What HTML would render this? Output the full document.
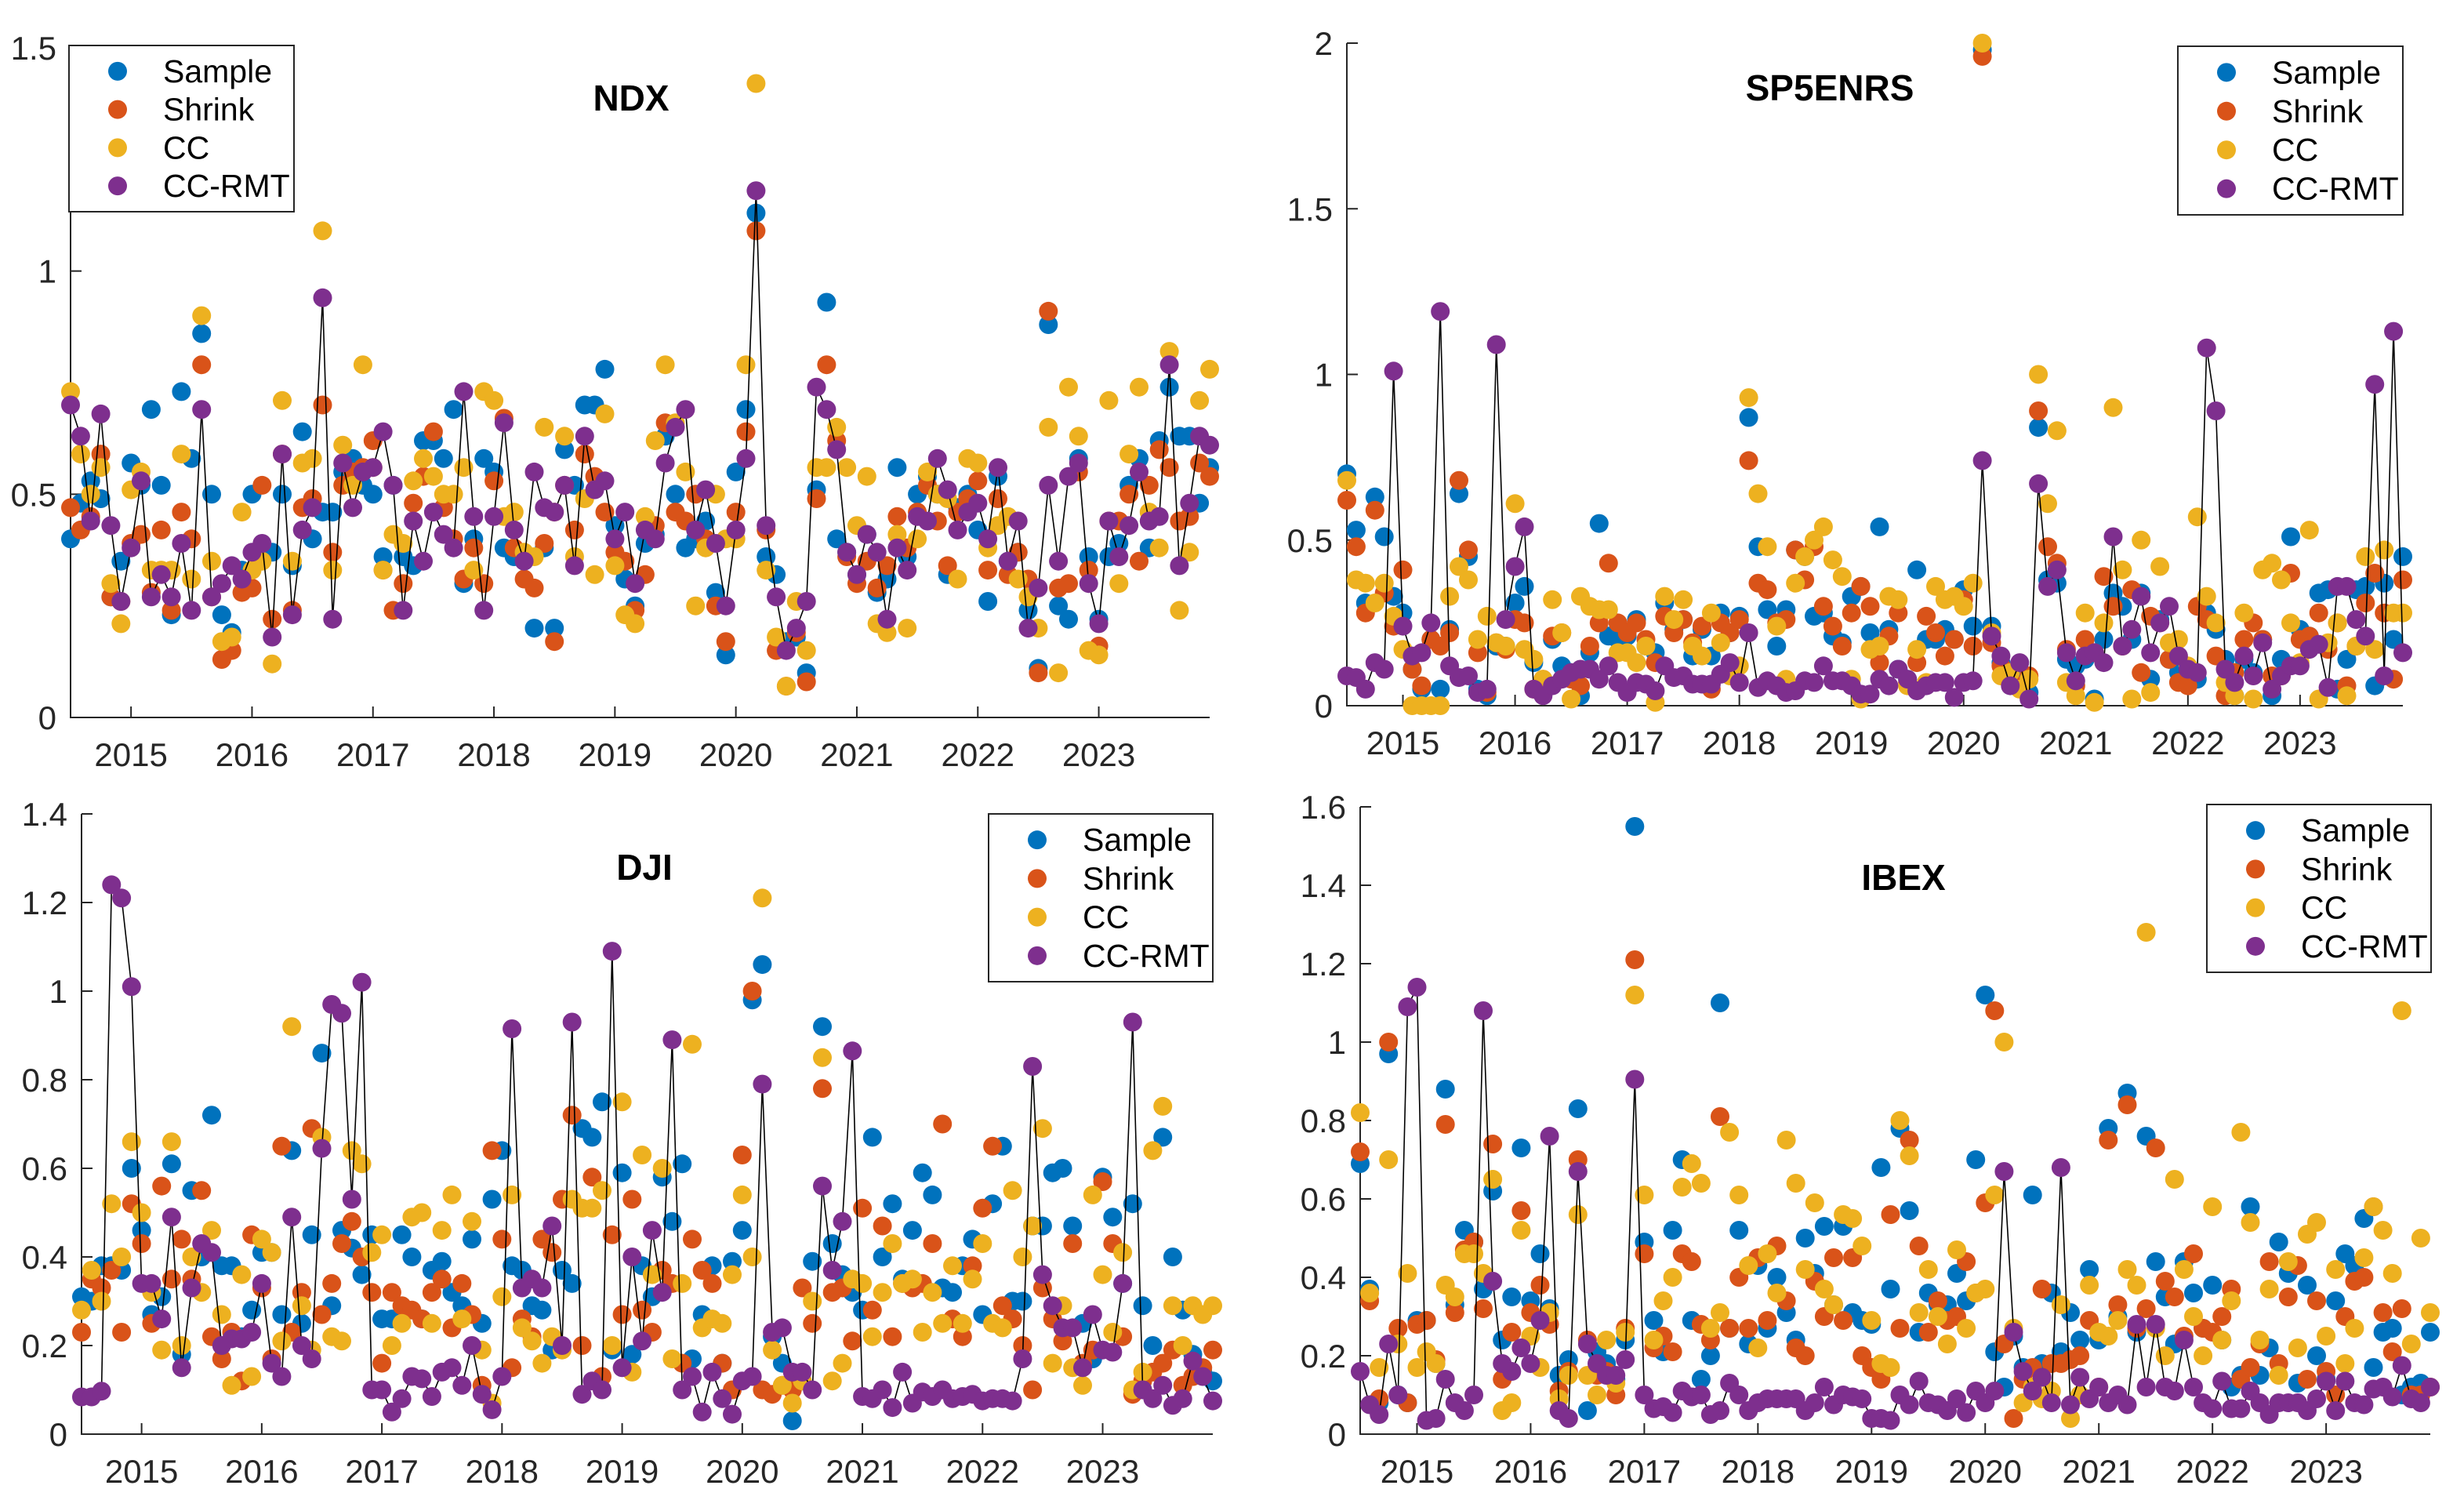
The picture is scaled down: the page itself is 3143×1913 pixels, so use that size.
<!DOCTYPE html>
<html><head><meta charset="utf-8"><style>
html,body{margin:0;padding:0;background:#fff;}
svg{display:block;font-family:"Liberation Sans",sans-serif;}
</style></head><body>
<svg id="fig" width="3143" height="1913" viewBox="0 0 3143 1913" xmlns="http://www.w3.org/2000/svg"></svg>
<script>
// ---------- NDX ----------
const ndxSample=[0.40,0.48,0.53,0.49,0.27,0.35,0.57,0.52,0.69,0.52,0.23,0.73,0.58,0.86,0.50,0.23,0.19,0.33,0.50,0.38,0.37,0.50,0.34,0.64,0.40,0.46,0.46,0.55,0.58,0.52,0.50,0.36,0.52,0.36,0.34,0.62,0.62,0.58,0.69,0.30,0.40,0.58,0.55,0.38,0.36,0.35,0.20,0.38,0.20,0.60,0.52,0.70,0.70,0.78,0.43,0.31,0.25,0.39,0.41,0.63,0.50,0.38,0.40,0.44,0.28,0.14,0.55,0.69,1.13,0.36,0.32,0.17,0.18,0.10,0.51,0.93,0.40,0.37,0.32,0.41,0.28,0.31,0.56,0.36,0.50,0.54,0.50,0.32,0.47,0.50,0.42,0.26,0.54,0.35,0.37,0.24,0.11,0.88,0.25,0.22,0.58,0.36,0.22,0.36,0.39,0.52,0.58,0.38,0.62,0.74,0.63,0.63,0.48,0.56];
const ndxShrink=[0.47,0.42,0.45,0.59,0.27,0.26,0.39,0.41,0.28,0.42,0.24,0.46,0.40,0.79,0.27,0.13,0.15,0.28,0.29,0.52,0.22,0.59,0.24,0.47,0.49,0.70,0.37,0.52,0.55,0.56,0.62,0.33,0.24,0.30,0.48,0.54,0.64,0.47,0.40,0.31,0.38,0.30,0.53,0.67,0.38,0.31,0.29,0.39,0.17,0.52,0.42,0.59,0.54,0.46,0.37,0.35,0.24,0.32,0.43,0.66,0.46,0.44,0.50,0.40,0.25,0.17,0.46,0.64,1.09,0.42,0.15,0.07,0.19,0.08,0.49,0.79,0.62,0.36,0.30,0.35,0.29,0.34,0.45,0.38,0.46,0.52,0.44,0.34,0.46,0.49,0.53,0.33,0.49,0.32,0.37,0.31,0.10,0.91,0.29,0.30,0.55,0.33,0.16,0.44,0.44,0.50,0.35,0.52,0.60,0.56,0.44,0.45,0.57,0.54];
const ndxCC=[0.73,0.59,0.50,0.56,0.30,0.21,0.51,0.55,0.33,0.33,0.33,0.59,0.31,0.90,0.35,0.17,0.18,0.46,0.33,0.35,0.12,0.71,0.35,0.57,0.58,1.09,0.33,0.61,0.52,0.79,0.56,0.33,0.41,0.39,0.53,0.58,0.54,0.50,0.50,0.56,0.33,0.73,0.71,0.45,0.46,0.37,0.36,0.65,0.46,0.63,0.36,0.49,0.32,0.68,0.34,0.23,0.21,0.45,0.62,0.79,0.66,0.55,0.25,0.38,0.50,0.40,0.40,0.79,1.42,0.33,0.18,0.07,0.26,0.15,0.56,0.56,0.65,0.56,0.43,0.54,0.21,0.19,0.41,0.20,0.40,0.55,0.50,0.49,0.31,0.58,0.57,0.38,0.43,0.45,0.31,0.27,0.20,0.65,0.10,0.74,0.63,0.15,0.14,0.71,0.30,0.59,0.74,0.46,0.38,0.82,0.24,0.37,0.71,0.78];
const ndxRMT=[0.70,0.63,0.44,0.68,0.43,0.26,0.38,0.53,0.27,0.32,0.27,0.39,0.24,0.69,0.27,0.30,0.34,0.31,0.37,0.39,0.18,0.59,0.23,0.42,0.47,0.94,0.22,0.57,0.47,0.55,0.56,0.64,0.52,0.24,0.44,0.35,0.46,0.41,0.38,0.73,0.45,0.24,0.45,0.66,0.42,0.35,0.55,0.47,0.46,0.52,0.34,0.63,0.51,0.53,0.40,0.46,0.30,0.42,0.40,0.57,0.65,0.69,0.42,0.51,0.39,0.25,0.42,0.58,1.18,0.43,0.27,0.15,0.20,0.26,0.74,0.69,0.60,0.37,0.32,0.41,0.37,0.22,0.38,0.33,0.45,0.44,0.58,0.51,0.42,0.46,0.48,0.40,0.56,0.35,0.44,0.20,0.29,0.52,0.35,0.54,0.57,0.30,0.21,0.44,0.36,0.43,0.55,0.44,0.45,0.79,0.34,0.48,0.63,0.61];
const ndxYTicks=[0,0.5,1,1.5];
const ndxYLabels=["0","0.5","1","1.5"];

// ---------- SP5ENRS ----------
const spSample=[0.70,0.53,0.31,0.63,0.51,0.33,0.28,0.11,0.05,0.20,0.05,0.23,0.64,0.45,0.05,0.03,0.18,0.18,0.31,0.36,0.13,0.05,0.20,0.12,0.10,0.03,0.16,0.55,0.21,0.20,0.21,0.26,0.18,0.16,0.31,0.23,0.26,0.15,0.23,0.15,0.28,0.22,0.27,0.87,0.48,0.29,0.18,0.29,0.47,0.45,0.27,0.28,0.21,0.19,0.33,0.36,0.22,0.54,0.23,0.11,0.08,0.41,0.20,0.20,0.23,0.20,0.35,0.24,1.98,0.24,0.13,0.09,0.09,0.04,0.84,0.38,0.37,0.14,0.12,0.14,0.02,0.20,0.34,0.30,0.20,0.34,0.08,0.26,0.14,0.10,0.07,0.08,0.28,0.23,0.14,0.03,0.14,0.10,0.20,0.03,0.14,0.51,0.23,0.21,0.34,0.35,0.05,0.14,0.35,0.36,0.06,0.37,0.20,0.45];
const spShrink=[0.62,0.48,0.28,0.59,0.34,0.24,0.41,0.11,0.06,0.20,0.18,0.22,0.68,0.47,0.16,0.04,0.19,0.17,0.26,0.25,0.05,0.08,0.21,0.22,0.08,0.06,0.18,0.25,0.43,0.25,0.22,0.25,0.20,0.13,0.27,0.22,0.26,0.19,0.24,0.05,0.25,0.22,0.26,0.74,0.37,0.35,0.25,0.26,0.47,0.38,0.48,0.30,0.24,0.18,0.28,0.36,0.30,0.13,0.21,0.28,0.07,0.13,0.27,0.22,0.15,0.20,0.32,0.18,1.96,0.19,0.12,0.10,0.06,0.09,0.89,0.48,0.43,0.17,0.06,0.20,0.16,0.39,0.30,0.18,0.35,0.10,0.27,0.25,0.14,0.07,0.06,0.30,0.26,0.15,0.03,0.10,0.20,0.25,0.20,0.09,0.09,0.40,0.20,0.21,0.28,0.17,0.25,0.06,0.18,0.31,0.40,0.28,0.08,0.38];
const spCC=[0.68,0.38,0.37,0.31,0.37,0.27,0.17,0.00,0.00,0.00,0.00,0.33,0.42,0.38,0.20,0.27,0.19,0.18,0.61,0.17,0.14,0.08,0.32,0.22,0.02,0.33,0.30,0.29,0.29,0.16,0.16,0.13,0.18,0.01,0.33,0.26,0.32,0.18,0.15,0.28,0.19,0.09,0.12,0.93,0.64,0.48,0.24,0.08,0.37,0.45,0.50,0.54,0.44,0.39,0.08,0.02,0.17,0.18,0.33,0.32,0.06,0.17,0.07,0.36,0.32,0.33,0.30,0.37,2.00,0.22,0.09,0.10,0.05,0.08,1.00,0.61,0.83,0.07,0.03,0.28,0.01,0.25,0.90,0.41,0.02,0.50,0.04,0.42,0.19,0.20,0.12,0.57,0.33,0.25,0.07,0.03,0.28,0.02,0.41,0.43,0.38,0.25,0.13,0.53,0.02,0.19,0.25,0.03,0.18,0.45,0.17,0.47,0.28,0.28];
const spRMT=[0.09,0.085,0.05,0.13,0.11,1.01,0.24,0.15,0.16,0.25,1.19,0.12,0.085,0.09,0.04,0.05,1.09,0.26,0.42,0.54,0.05,0.03,0.06,0.08,0.10,0.11,0.11,0.08,0.12,0.07,0.04,0.07,0.065,0.045,0.12,0.085,0.09,0.065,0.065,0.065,0.095,0.13,0.07,0.22,0.055,0.075,0.06,0.04,0.045,0.075,0.07,0.12,0.075,0.075,0.06,0.035,0.035,0.08,0.06,0.11,0.08,0.045,0.06,0.07,0.07,0.025,0.07,0.075,0.74,0.21,0.15,0.06,0.13,0.02,0.67,0.36,0.41,0.16,0.075,0.15,0.16,0.13,0.51,0.18,0.23,0.33,0.16,0.25,0.30,0.15,0.11,0.10,1.08,0.89,0.11,0.07,0.15,0.09,0.19,0.05,0.09,0.12,0.12,0.17,0.185,0.055,0.36,0.36,0.26,0.21,0.97,0.09,1.13,0.16];
const spYTicks=[0,0.5,1,1.5,2];
const spYLabels=["0","0.5","1","1.5","2"];

// ---------- DJI ----------
const djiSample=[0.31,0.30,0.38,0.38,0.37,0.60,0.46,0.27,0.31,0.61,0.18,0.55,0.40,0.72,0.38,0.38,0.22,0.28,0.41,0.41,0.27,0.64,0.25,0.45,0.86,0.29,0.46,0.42,0.36,0.45,0.26,0.26,0.45,0.40,0.26,0.37,0.39,0.32,0.29,0.44,0.25,0.53,0.64,0.38,0.37,0.29,0.28,0.19,0.37,0.34,0.69,0.67,0.75,0.19,0.59,0.18,0.38,0.31,0.58,0.48,0.61,0.17,0.27,0.38,0.16,0.39,0.46,0.98,1.06,0.22,0.16,0.03,0.12,0.39,0.92,0.43,0.36,0.32,0.28,0.67,0.40,0.52,0.35,0.46,0.59,0.54,0.33,0.32,0.38,0.44,0.27,0.52,0.65,0.30,0.30,0.47,0.47,0.59,0.60,0.47,0.25,0.17,0.58,0.49,0.34,0.52,0.29,0.20,0.67,0.40,0.28,0.18,0.14,0.12];
const djiShrink=[0.23,0.35,0.33,0.37,0.23,0.52,0.43,0.25,0.56,0.35,0.44,0.35,0.55,0.22,0.17,0.23,0.12,0.45,0.33,0.17,0.65,0.23,0.32,0.69,0.27,0.34,0.43,0.48,0.40,0.32,0.16,0.32,0.29,0.28,0.26,0.32,0.35,0.24,0.34,0.27,0.11,0.64,0.44,0.15,0.26,0.22,0.44,0.41,0.53,0.72,0.20,0.58,0.13,0.45,0.27,0.53,0.28,0.23,0.37,0.34,0.16,0.44,0.37,0.34,0.16,0.10,0.63,1.00,0.10,0.09,0.11,0.10,0.33,0.25,0.78,0.32,0.33,0.21,0.51,0.28,0.47,0.22,0.34,0.33,0.34,0.43,0.70,0.26,0.22,0.38,0.51,0.65,0.29,0.26,0.20,0.10,0.33,0.26,0.21,0.43,0.16,0.19,0.57,0.43,0.22,0.09,0.12,0.14,0.16,0.19,0.11,0.13,0.15,0.19];
const djiCC=[0.28,0.37,0.30,0.52,0.40,0.66,0.50,0.32,0.19,0.66,0.20,0.40,0.32,0.46,0.27,0.11,0.36,0.13,0.44,0.41,0.21,0.92,0.29,0.19,0.67,0.22,0.21,0.64,0.61,0.41,0.45,0.20,0.25,0.49,0.50,0.25,0.46,0.54,0.26,0.48,0.19,0.07,0.31,0.54,0.24,0.21,0.16,0.22,0.19,0.53,0.51,0.51,0.55,0.20,0.75,0.14,0.63,0.36,0.60,0.17,0.34,0.88,0.24,0.26,0.25,0.36,0.54,0.40,1.21,0.19,0.11,0.07,0.12,0.30,0.85,0.12,0.16,0.35,0.34,0.22,0.32,0.43,0.34,0.35,0.23,0.32,0.25,0.38,0.25,0.35,0.43,0.25,0.24,0.55,0.40,0.47,0.69,0.16,0.29,0.15,0.11,0.54,0.36,0.23,0.41,0.10,0.14,0.64,0.74,0.29,0.20,0.29,0.27,0.29];
const djiRMT=[0.084,0.084,0.097,1.24,1.21,1.01,0.34,0.34,0.26,0.49,0.15,0.33,0.43,0.41,0.20,0.215,0.215,0.23,0.34,0.16,0.13,0.49,0.20,0.17,0.645,0.97,0.95,0.53,1.02,0.10,0.10,0.05,0.08,0.13,0.125,0.085,0.14,0.15,0.11,0.20,0.09,0.055,0.13,0.915,0.33,0.35,0.33,0.47,0.20,0.93,0.09,0.12,0.10,1.09,0.15,0.40,0.21,0.46,0.32,0.89,0.10,0.13,0.05,0.14,0.08,0.045,0.12,0.13,0.79,0.23,0.24,0.14,0.14,0.10,0.56,0.37,0.48,0.865,0.085,0.08,0.10,0.06,0.14,0.07,0.095,0.085,0.10,0.08,0.085,0.09,0.075,0.08,0.08,0.075,0.17,0.83,0.36,0.29,0.24,0.24,0.15,0.27,0.19,0.185,0.34,0.93,0.10,0.08,0.11,0.065,0.08,0.165,0.13,0.075];
const djiYTicks=[0,0.2,0.4,0.6,0.8,1,1.2,1.4];
const djiYLabels=["0","0.2","0.4","0.6","0.8","1","1.2","1.4"];

// ---------- IBEX ----------
const ibexSample=[0.69,0.37,0.08,0.97,0.10,0.08,0.29,0.29,0.18,0.88,0.33,0.52,0.49,0.37,0.62,0.24,0.35,0.73,0.34,0.46,0.32,0.15,0.19,0.83,0.06,0.21,0.18,0.14,0.24,1.55,0.49,0.29,0.21,0.52,0.70,0.29,0.14,0.20,1.10,0.27,0.52,0.23,0.43,0.27,0.40,0.31,0.24,0.50,0.41,0.53,0.33,0.53,0.31,0.29,0.28,0.68,0.37,0.78,0.57,0.26,0.36,0.33,0.33,0.41,0.34,0.70,1.12,0.21,0.12,0.25,0.17,0.61,0.18,0.36,0.21,0.31,0.24,0.42,0.24,0.78,0.30,0.87,0.26,0.76,0.44,0.35,0.23,0.44,0.36,0.27,0.38,0.24,0.12,0.15,0.58,0.15,0.22,0.49,0.41,0.13,0.38,0.20,0.14,0.34,0.46,0.43,0.55,0.17,0.26,0.27,0.10,0.12,0.13,0.26];
const ibexShrink=[0.72,0.34,0.09,1.00,0.27,0.08,0.28,0.29,0.19,0.79,0.31,0.47,0.49,0.32,0.74,0.14,0.26,0.57,0.31,0.38,0.28,0.11,0.16,0.70,0.24,0.15,0.16,0.10,0.27,1.21,0.46,0.22,0.25,0.21,0.46,0.44,0.28,0.24,0.81,0.27,0.40,0.27,0.45,0.29,0.48,0.34,0.22,0.20,0.39,0.30,0.45,0.29,0.45,0.20,0.17,0.14,0.56,0.27,0.75,0.48,0.26,0.34,0.29,0.30,0.44,0.36,0.59,1.08,0.23,0.04,0.14,0.17,0.37,0.18,0.18,0.19,0.20,0.29,0.12,0.75,0.33,0.84,0.27,0.32,0.73,0.39,0.35,0.25,0.46,0.27,0.26,0.30,0.37,0.14,0.17,0.23,0.44,0.18,0.35,0.43,0.14,0.34,0.16,0.10,0.30,0.39,0.40,0.58,0.31,0.21,0.32,0.10,0.10,0.12];
const ibexCC=[0.82,0.36,0.17,0.70,0.23,0.41,0.17,0.21,0.18,0.38,0.35,0.46,0.46,0.41,0.65,0.06,0.08,0.52,0.25,0.17,0.31,0.09,0.15,0.56,0.15,0.10,0.24,0.13,0.26,1.12,0.61,0.24,0.34,0.40,0.63,0.69,0.64,0.27,0.31,0.77,0.61,0.43,0.22,0.46,0.36,0.75,0.64,0.42,0.59,0.37,0.33,0.56,0.55,0.48,0.29,0.18,0.17,0.80,0.71,0.31,0.42,0.30,0.23,0.47,0.27,0.36,0.37,0.61,1.00,0.27,0.08,0.12,0.09,0.11,0.33,0.04,0.10,0.38,0.26,0.25,0.29,0.42,0.38,1.28,0.27,0.20,0.65,0.42,0.30,0.20,0.58,0.24,0.34,0.77,0.54,0.24,0.37,0.15,0.44,0.22,0.51,0.54,0.25,0.42,0.18,0.27,0.45,0.58,0.52,0.41,1.08,0.23,0.50,0.31];
const ibexRMT=[0.16,0.075,0.05,0.23,0.10,1.09,1.14,0.035,0.04,0.14,0.08,0.06,0.10,1.08,0.39,0.18,0.16,0.22,0.18,0.29,0.76,0.06,0.04,0.67,0.23,0.18,0.15,0.15,0.19,0.905,0.10,0.065,0.07,0.055,0.11,0.095,0.10,0.05,0.06,0.13,0.10,0.06,0.08,0.09,0.09,0.09,0.09,0.06,0.08,0.12,0.075,0.10,0.095,0.09,0.04,0.04,0.035,0.10,0.075,0.135,0.08,0.075,0.06,0.09,0.055,0.11,0.08,0.11,0.67,0.26,0.16,0.11,0.145,0.08,0.68,0.075,0.145,0.09,0.12,0.08,0.10,0.075,0.28,0.12,0.28,0.12,0.11,0.24,0.12,0.08,0.065,0.135,0.065,0.065,0.11,0.08,0.05,0.08,0.08,0.08,0.06,0.09,0.135,0.06,0.135,0.08,0.075,0.115,0.12,0.095,0.175,0.09,0.08,0.12];
const ibexYTicks=[0,0.2,0.4,0.6,0.8,1,1.2,1.4,1.6];
const ibexYLabels=["0","0.2","0.4","0.6","0.8","1","1.2","1.4","1.6"];

const yearTicks=[2015,2016,2017,2018,2019,2020,2021,2022,2023];
const seriesNames=["Sample","Shrink","CC","CC-RMT"];
const colors=["#0072BD","#D95319","#EDB120","#7E2F8E"];

const NS="http://www.w3.org/2000/svg";
const fig=document.getElementById('fig');
function mk(tag,attrs,parent){const e=document.createElementNS(NS,tag);for(const k in attrs)e.setAttribute(k,attrs[k]);(parent||fig).appendChild(e);return e;}

function drawPanel(p){
  const g=mk('g',{});
  
  
  const t0=2014.5, t1=2014.5+113/12;
  const xs=t=>p.left+(t-t0)/(t1-t0)*(p.right-p.left);
  const ys=v=>p.y0-v/p.yMax*(p.y0-p.yTop);
  const xi=i=>xs(t0+i/12);
  const ax=mk('path',{d:`M${p.left},${ys(p.yMax)} L${p.left},${p.y0} L${p.right},${p.y0}`,fill:'none',stroke:'#262626','stroke-width':2},g);
  
  
  p.yTicks.forEach((v,k)=>{
    const y=ys(v);
    const tk=mk('line',{x1:p.left,y1:y,x2:p.left+14,y2:y,stroke:'#262626','stroke-width':2},g);
    
    
    const tx=mk('text',{x:p.left-18,y:y+15,'text-anchor':'end','font-size':42,fill:'#262626'},g);
    tx.textContent=p.yLabels[k];
    
    
  });
  yearTicks.forEach(yr=>{
    const x=xs(yr);
    const tk=mk('line',{x1:x,y1:p.y0,x2:x,y2:p.y0-14,stroke:'#262626','stroke-width':2},g);
    
    
    const tx=mk('text',{x:x,y:p.y0+62,'text-anchor':'middle','font-size':42,fill:'#262626'},g);
    tx.textContent=String(yr);
    
    
  });
  p.series.forEach((arr,s)=>{
    const sg=mk('g',{},g);
    
    
    if(s===3){
      const d=arr.map((v,i)=>(i?'L':'M')+xi(i).toFixed(1)+','+ys(v).toFixed(1)).join(' ');
      const ln=mk('path',{d:d,fill:'none',stroke:'#000','stroke-width':1.6},sg);
      
      
    }
    arr.forEach((v,i)=>{
      const c=mk('circle',{cx:xi(i).toFixed(1),cy:ys(v).toFixed(1),r:12,fill:colors[s]},sg);
      
      
    });
  });
  const ti=mk('text',{x:p.titleX,y:p.titleY+16,'text-anchor':'middle','font-size':46,'font-weight':'bold',fill:'#000'},g);
  ti.textContent=p.title;
  
  
  const lg=mk('g',{},g);
  
  
  const lb=mk('rect',{x:p.lx,y:p.ly,width:p.lw,height:p.lh,fill:'#fff',stroke:'#262626','stroke-width':2},lg);
  
  
  seriesNames.forEach((nm,s)=>{
    const cy=p.ly+p.lh*(0.155+0.23*s);
    const c=mk('circle',{cx:p.lx+62,cy:cy,r:12,fill:colors[s]},lg);
    
    
    const t=mk('text',{x:p.lx+120,y:cy+14,'font-size':41,fill:'#000'},lg);
    t.textContent=nm;
    
    
  });
}

drawPanel({key:'ndx',title:'NDX',left:90,right:1543,y0:915,yTop:61,yMax:1.5,yTicks:ndxYTicks,yLabels:ndxYLabels,series:[ndxSample,ndxShrink,ndxCC,ndxRMT],titleX:805,titleY:125,lx:88,ly:58,lw:287,lh:212});
drawPanel({key:'sp5enrs',title:'SP5ENRS',left:1718,right:3065,y0:900,yTop:55,yMax:2,yTicks:spYTicks,yLabels:spYLabels,series:[spSample,spShrink,spCC,spRMT],titleX:2334,titleY:112,lx:2778,ly:59,lw:287,lh:215});
drawPanel({key:'dji',title:'DJI',left:104,right:1547,y0:1829,yTop:1038,yMax:1.4,yTicks:djiYTicks,yLabels:djiYLabels,series:[djiSample,djiShrink,djiCC,djiRMT],titleX:822,titleY:1106,lx:1261,ly:1038,lw:286,lh:214});
drawPanel({key:'ibex',title:'IBEX',left:1735,right:3100,y0:1829,yTop:1029,yMax:1.6,yTicks:ibexYTicks,yLabels:ibexYLabels,series:[ibexSample,ibexShrink,ibexCC,ibexRMT],titleX:2428,titleY:1119,lx:2815,ly:1026,lw:286,lh:214});
</script>
</body></html>
